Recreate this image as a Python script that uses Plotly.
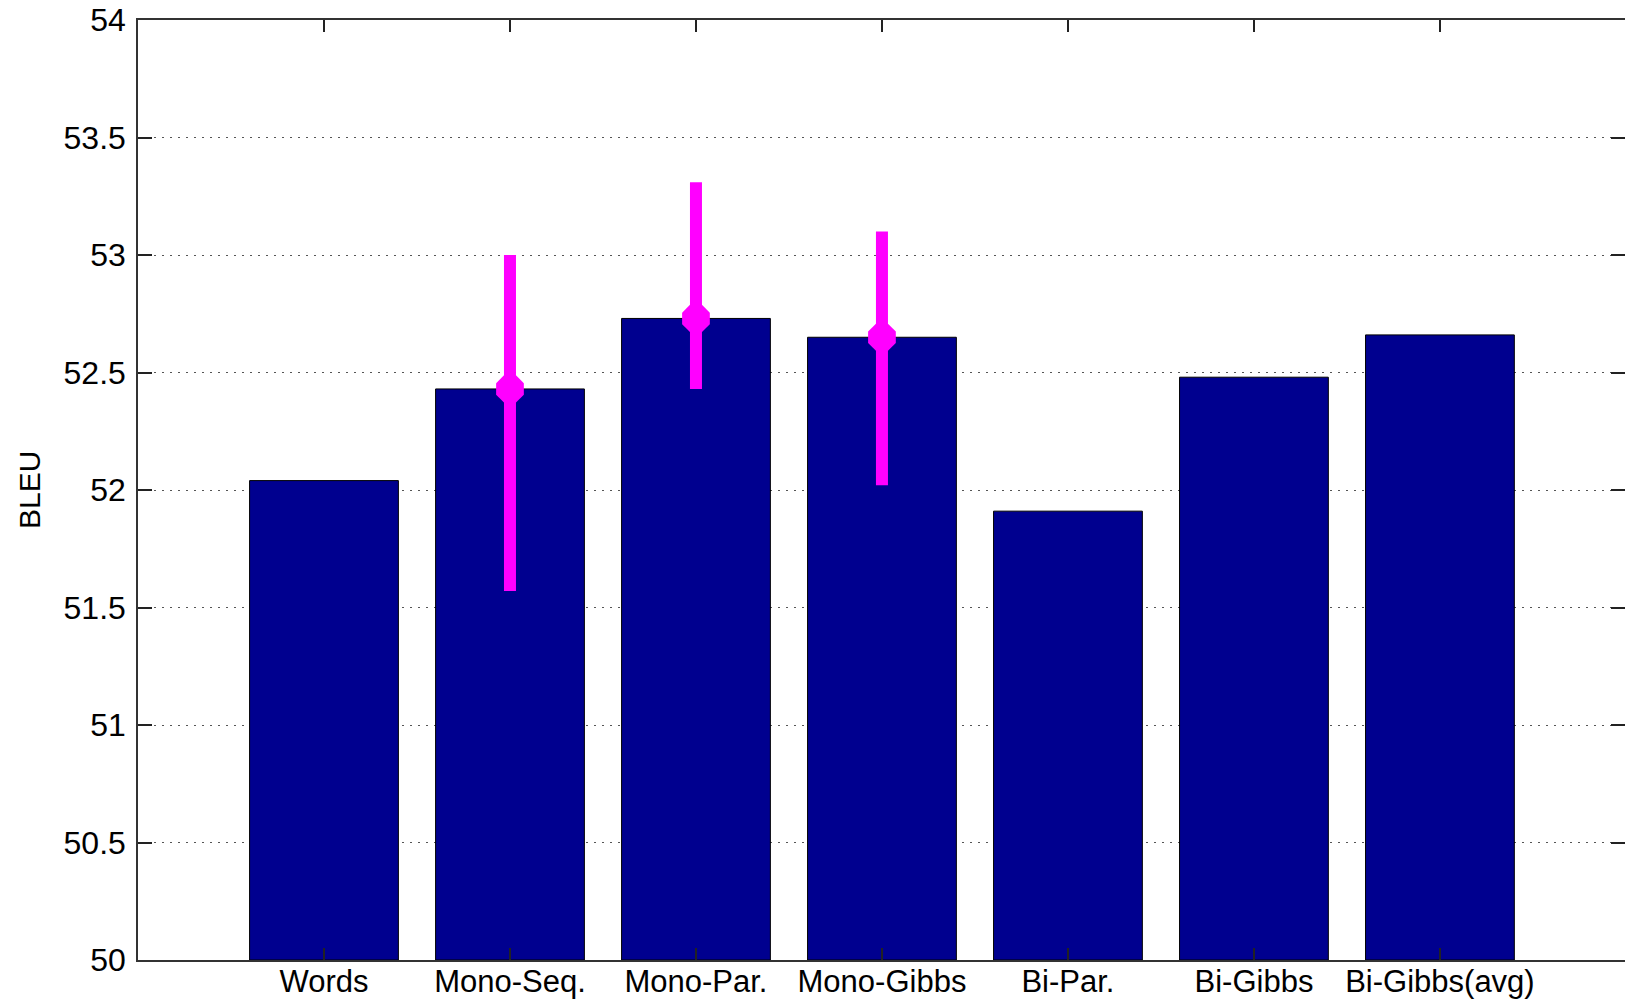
import plotly.graph_objects as go

categories = ["Words", "Mono-Seq.", "Mono-Par.", "Mono-Gibbs", "Bi-Par.", "Bi-Gibbs", "Bi-Gibbs(avg)"]
bleu = [52.04, 52.43, 52.73, 52.65, 51.91, 52.48, 52.66]

err_categories = ["Mono-Seq.", "Mono-Par.", "Mono-Gibbs"]
err_mean = [52.43, 52.73, 52.65]
err_high = [53.00, 53.31, 53.10]
err_low = [51.57, 52.43, 52.02]

y_ticks = [50, 50.5, 51, 51.5, 52, 52.5, 53, 53.5, 54]

pos = {c: i + 1 for i, c in enumerate(categories)}
xs = [pos[c] for c in categories]
exs = [pos[c] for c in err_categories]

FONT = "Liberation Sans, Arial, sans-serif"
L = 138
W = 1625 - L

fig = go.Figure()
fig.add_trace(go.Bar(
    x=xs, y=[v - 50 for v in bleu], base=50, width=0.8,
    marker=dict(color="#00008F", line=dict(color="black", width=1)),
    showlegend=False, hoverinfo="skip",
))
fig.add_trace(go.Scatter(
    x=exs, y=err_mean, mode="markers",
    marker=dict(symbol="octagon", size=30, color="#FF00FF", line=dict(width=0)),
    error_y=dict(type="data", symmetric=False,
                 array=[h - m for h, m in zip(err_high, err_mean)],
                 arrayminus=[m - l for m, l in zip(err_mean, err_low)],
                 color="#FF00FF", thickness=12, width=0),
    showlegend=False, hoverinfo="skip",
))

fig.update_layout(
    width=1625, height=1001,
    margin=dict(l=L, r=0, t=20, b=41, autoexpand=False),
    paper_bgcolor="white", plot_bgcolor="white",
    font=dict(family=FONT, size=31, color="black"),
    xaxis=dict(
        range=[0, 7.995], tickvals=xs, ticktext=categories,
        ticks="inside", ticklen=12, tickcolor="#222", tickwidth=1.5,
        showline=True, linecolor="#333", linewidth=1.5, mirror="ticks",
        showgrid=False, zeroline=False, tickfont=dict(size=31, family=FONT),
        automargin=False, ticklabelstandoff=-7,
    ),
    yaxis=dict(
        range=[50, 54], tickvals=y_ticks, ticktext=[f"{t:g}" for t in y_ticks],
        ticks="inside", ticklen=14, tickcolor="#222", tickwidth=1.5,
        showline=True, linecolor="#333", linewidth=1.5, mirror="ticks",
        showgrid=True, gridcolor="#555", gridwidth=1, griddash="2px,6px",
        zeroline=False, tickfont=dict(size=32, family=FONT),
        ticklabelstandoff=4, automargin=False,
    ),
    annotations=[dict(
        text="BLEU", textangle=-90, xref="paper", yref="paper",
        x=-(L - 29) / W, y=0.5, xanchor="center", yanchor="middle",
        showarrow=False, font=dict(size=30, family=FONT),
    )],
)

fig.write_html("out.html")
